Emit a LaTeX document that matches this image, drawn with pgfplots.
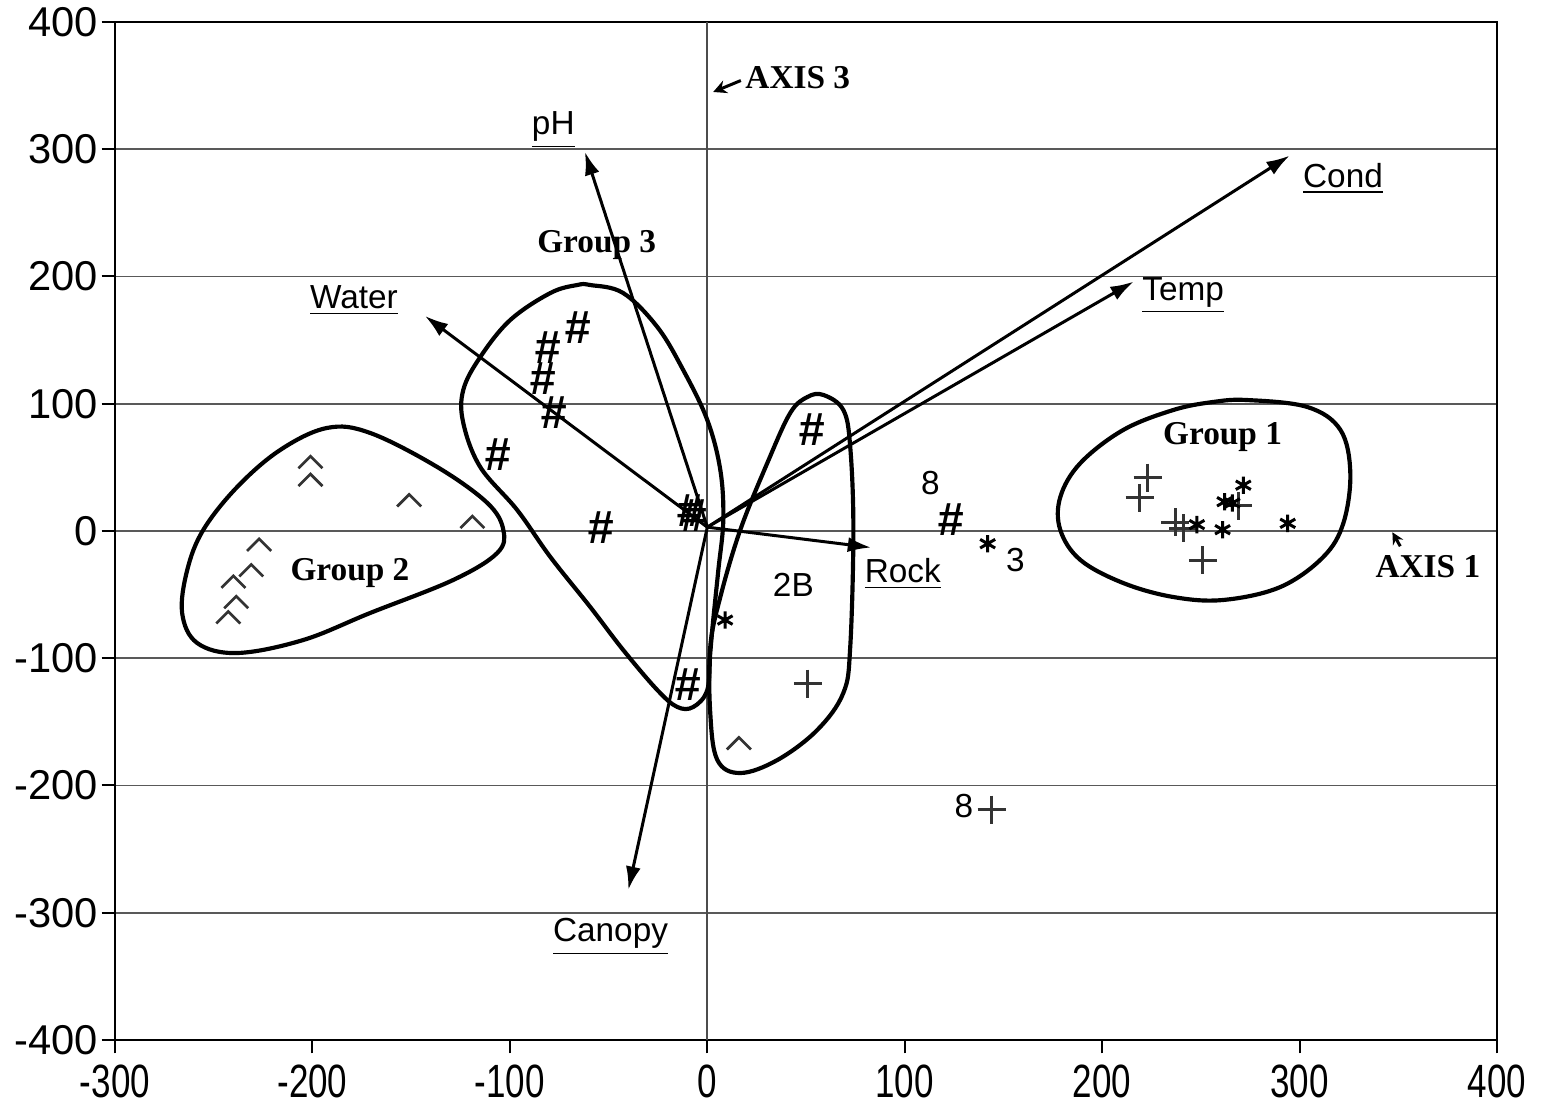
\documentclass[border=0pt]{standalone}
\usepackage{pgfplots}
\pgfplotsset{compat=1.18}
\usepackage{fontspec}
\setmainfont{Liberation Sans}
\newfontfamily\serifb{Liberation Serif}
\usetikzlibrary{arrows.meta}

\pgfdeclareplotmark{caret}{%
  \pgfpathmoveto{\pgfqpoint{-\pgfplotmarksize}{-0.5\pgfplotmarksize}}%
  \pgfpathlineto{\pgfqpoint{0pt}{0.5\pgfplotmarksize}}%
  \pgfpathlineto{\pgfqpoint{\pgfplotmarksize}{-0.5\pgfplotmarksize}}%
  \pgfusepathqstroke}

\newcommand\lbl{\fontsize{10}{10}\selectfont}
\newcommand\grp{\serifb\bfseries\fontsize{10}{10}\selectfont}

\begin{document}
\begin{tikzpicture}
\begin{axis}[
  width=414.6pt, height=305.4pt, scale only axis,
  xmin=-300, xmax=400, ymin=-400, ymax=400,
  xtick={-300,-200,...,400}, ytick={-400,-300,...,400},
  tick align=outside, xtick pos=left, ytick pos=left,
  major tick length=4pt,
  ymajorgrids, grid style={black!65, line width=0.5pt},
  axis line style={line width=0.8pt},
  tick style={black, line width=0.6pt},
  /pgf/number format/assume math mode=true,
  yticklabel style={font=\fontsize{12.5}{13}\selectfont, inner sep=1pt},
  xticklabel style={font=\fontsize{14}{14}\selectfont, xscale=0.75},
  clip=false,
]
% vertical line at x=0
\addplot[black!70, line width=0.5pt] coordinates {(0,-400) (0,400)};

% group enclosures
\addplot[line width=1.25pt, smooth cycle, tension=0.6] coordinates {
 (-192.5,81) (-170.7,77) (-136.8,50.3) (-111.4,22) (-103.3,0.8) (-106.4,-17.3)
 (-128.7,-38.5) (-170.7,-64.4) (-204.7,-85.7) (-238.1,-95.9) (-258.4,-88)
 (-266,-64.4) (-263.4,-30.6) (-255.3,0.8) (-238.1,34.6) (-216.3,63.7)};
\addplot[line width=1.25pt, smooth cycle, tension=0.6] coordinates {
 (-59.3,193.3) (-42.6,187) (-25.3,160.3) (-12.2,126.5) (0,87.2) (6.6,47.9)
 (8.1,8.6) (5.6,-30.6) (3.0,-69.9) (1.5,-95.9) (0,-125) (-7.1,-138.3)
 (-15.2,-138.3) (-25.3,-125) (-42.6,-93.5) (-59.3,-59.7) (-79.5,-20.4)
 (-96.3,16.5) (-115,50.3) (-123.6,84.9) (-123.6,110.8) (-115,136.7)
 (-99.8,165.8) (-79.5,187) (-65.9,193.3)};
\addplot[line width=1.25pt, smooth cycle, tension=0.6] coordinates {
 (58.8,106.9) (68.9,95.1) (72.4,66) (74,0.8) (72.4,-91.2) (68.9,-127.3)
 (55.7,-156.4) (35.5,-180) (16.7,-190.2) (5.1,-180) (1.5,-143) (1.5,-91.2)
 (6.6,-51.9) (16.7,0.8) (30.4,53.4) (42,92.7) (50.7,105.3)};
\addplot[line width=1.25pt, smooth cycle, tension=0.6] coordinates {
 (273.6,102.9) (304,97.4) (320.7,79.4) (325.7,45.6) (322.2,6.3) (312,-20.4)
 (290.3,-44) (261.4,-54.2) (236.1,-51.9) (210.7,-40.9) (189,-22.8)
 (178.8,0.8) (178.8,26.7) (189,53.4) (210.7,79.4) (236.1,95.1) (256.3,101.4)};

% environmental vectors
\pgfplotsset{vec/.style={line width=0.9pt, -{Latex[length=7pt,width=4.5pt]}}}
\addplot[vec] coordinates {(0,3) (-62,298)};
\addplot[vec] coordinates {(0,3) (-143,169)};
\addplot[vec] coordinates {(0,3) (295,295)};
\addplot[vec] coordinates {(0,3) (216,196)};
\addplot[vec] coordinates {(0,3) (83,-13)};
\addplot[vec] coordinates {(0,3) (-40,-282)};

% small axis pointers
\addplot[line width=0.9pt, -{Stealth[length=4pt,width=4pt]}] coordinates {(17,354) (3,345)};
\addplot[line width=0.9pt, -{Stealth[length=3.5pt,width=3.5pt]}] coordinates {(351,-12) (347,-1)};

% samples
\addplot[only marks, mark=text, text mark={\fontsize{14}{14}\selectfont\bfseries\itshape\#}, black!85] coordinates {
 (-66,159.5) (-81,144) (-83.6,120) (-78,92.7) (-106.4,59.7) (-54,3)
 (-7,12) (-9,16) (53,80) (123,9) (-10,-121)};
\addplot[only marks, mark=+, mark size=4.2pt, line width=0.9pt, black!80] coordinates {
 (51,-120) (144,-219) (223,42) (219,26) (237,7) (241,2) (251,-23) (269,20)};
\addplot[only marks, mark=asterisk, mark size=2.6pt, line width=0.9pt, black] coordinates {
 (9,-70) (142,-10) (271.5,36) (262,23) (266,22) (248,5) (261,1) (294,6)};
\addplot[only marks, mark=caret, mark size=3.6pt, line width=0.8pt, black!80] coordinates {
 (-201,54) (-201,40) (-151,24) (-119,7) (-227,-11) (-231,-31) (-240,-40)
 (-238.6,-56) (-242.6,-68) (16,-167)};

% labels
\node[font=\lbl] at (axis cs:-78,315) {\underline{pH}};
\node[font=\lbl] at (axis cs:-179,181) {\underline{Water}};
\node[font=\lbl] at (axis cs:322,277) {\underline{Cond}};
\node[font=\lbl] at (axis cs:241,185) {\underline{Temp}};
\node[font=\lbl] at (axis cs:99,-34) {\underline{Rock}};
\node[font=\lbl] at (axis cs:-49,-319) {\underline{Canopy}};
\node[font=\grp] at (axis cs:-56,225) {Group 3};
\node[font=\grp] at (axis cs:261,74) {Group 1};
\node[font=\grp] at (axis cs:-181,-33) {Group 2};
\node[font=\grp, anchor=west, inner sep=0pt] at (axis cs:19,356) {AXIS 3};
\node[font=\grp] at (axis cs:365,-28) {AXIS 1};
\node[font=\lbl] at (axis cs:113,38) {8};
\node[font=\lbl] at (axis cs:156,-23) {3};
\node[font=\lbl] at (axis cs:43.6,-42) {2B};
\node[font=\lbl] at (axis cs:130,-216) {8};
\end{axis}
\path (current axis.south west) ++(-34.5pt,-18.3pt);
\path (current axis.north east) ++(13.5pt,6.6pt);
\end{tikzpicture}
\end{document}
